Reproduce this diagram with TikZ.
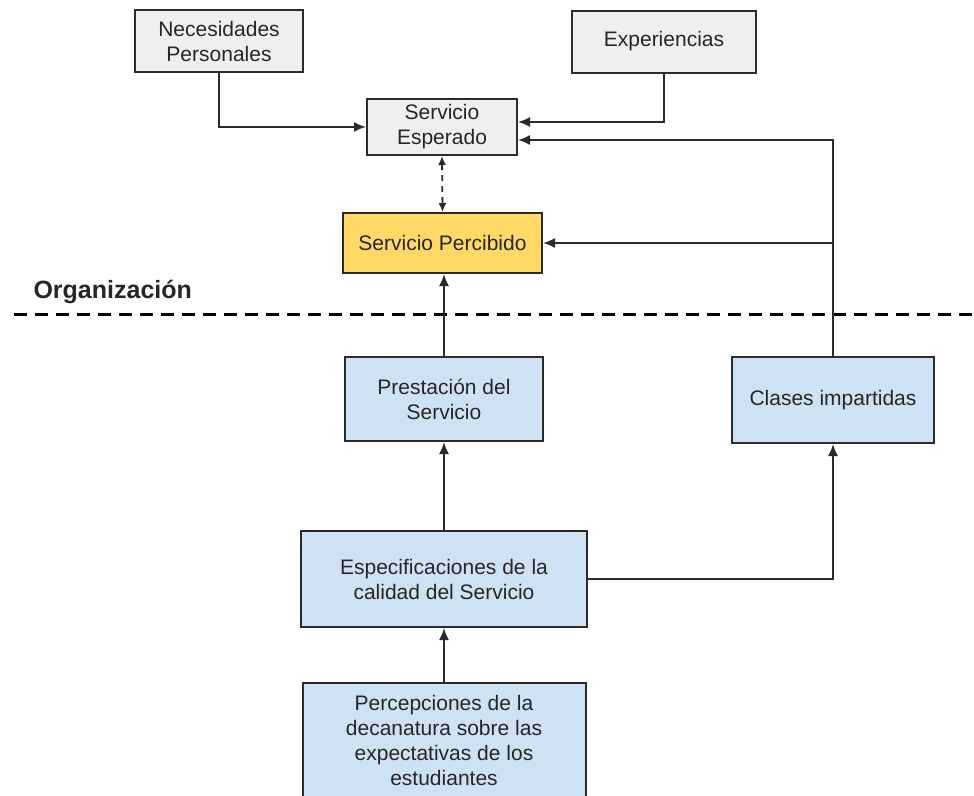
\documentclass[tikz,border=0pt]{standalone}
\usepackage{fontspec}
\setmainfont{Liberation Sans}
\usetikzlibrary{calc,arrows.meta}

\definecolor{greyfill}{HTML}{EFEFEF}
\definecolor{yellowfill}{HTML}{FFD966}
\definecolor{bluefill}{HTML}{CFE2F3}
\definecolor{edge}{HTML}{2B2B2B}
\definecolor{txt}{HTML}{262626}

\tikzset{
  box/.style={draw=edge,line width=2pt,align=center,text=txt,
    font=\fontsize{21}{25}\selectfont,inner sep=0pt},
  greybox/.style={box,fill=greyfill},
  yellowbox/.style={box,fill=yellowfill},
  bluebox/.style={box,fill=bluefill},
  conn/.style={draw=edge,line width=1.8pt},
  sep/.style={line width=3pt,dash pattern=on 13pt off 8pt}
}

\begin{document}
\begin{tikzpicture}[>={Latex[length=12pt,width=10pt]},x=1pt,y=-1pt]
        \useasboundingbox (0,0) rectangle (974,795);
        % upper part: the expectations
        \node[greybox,minimum width=168,minimum height=62](nec)at(219,41){Necesidades\\Personales};
        \node[greybox,minimum width=184,minimum height=62](exp)at(664,41.5){Experiencias};
        \node[greybox,minimum width=150,minimum height=56](esp)at(442,127){Servicio\\Esperado};
        \node[yellowbox,minimum width=199,minimum height=60](per)at(442.5,243){Servicio Percibido};
        % organization side
        \node[anchor=base west,text=txt,font=\fontsize{25}{30}\selectfont\bfseries](org)at(30,298){Organización};
        \coordinate(sepl)at(14,314);
        \coordinate(sepr)at(974,314);
        \draw[sep](sepl)--(sepr);
        \node[bluebox,minimum width=198,minimum height=84](pre)at(444,399){Prestación del\\Servicio};
        \node[bluebox,minimum width=202,minimum height=86](cla)at(833,400){Clases impartidas};
        \node[bluebox,minimum width=286,minimum height=96](spec)at(444,579){Especificaciones de la\\calidad del Servicio};
        \node[bluebox,minimum width=283,minimum height=115](pcp)at(444,740.5){Percepciones de la\\decanatura sobre las\\expectativas de los\\estudiantes};
        % connectors
        \draw[conn,->](nec.south)|-(esp.west);
        \draw[conn,->](exp.south)|-($(esp.east)+(0,-5)$);
        \draw[conn,->](cla.north)|-($(esp.east)+(0,13)$);
        \draw[conn,->](cla.north|-per.east)--(per.east);
        \draw[conn,{Latex[length=9pt,width=8pt]}-{Latex[length=9pt,width=8pt]},dash pattern=on 6pt off 5pt](esp.south)--(per.north);
        \draw[conn,->](pre.north)--(pre.north|-per.south);
        \draw[conn,->](spec.north)--(pre.south);
        \draw[conn,->](spec.east)-|(cla.south);
        \draw[conn,->](pcp.north)--(spec.south);
    \end{tikzpicture}
\end{document}
